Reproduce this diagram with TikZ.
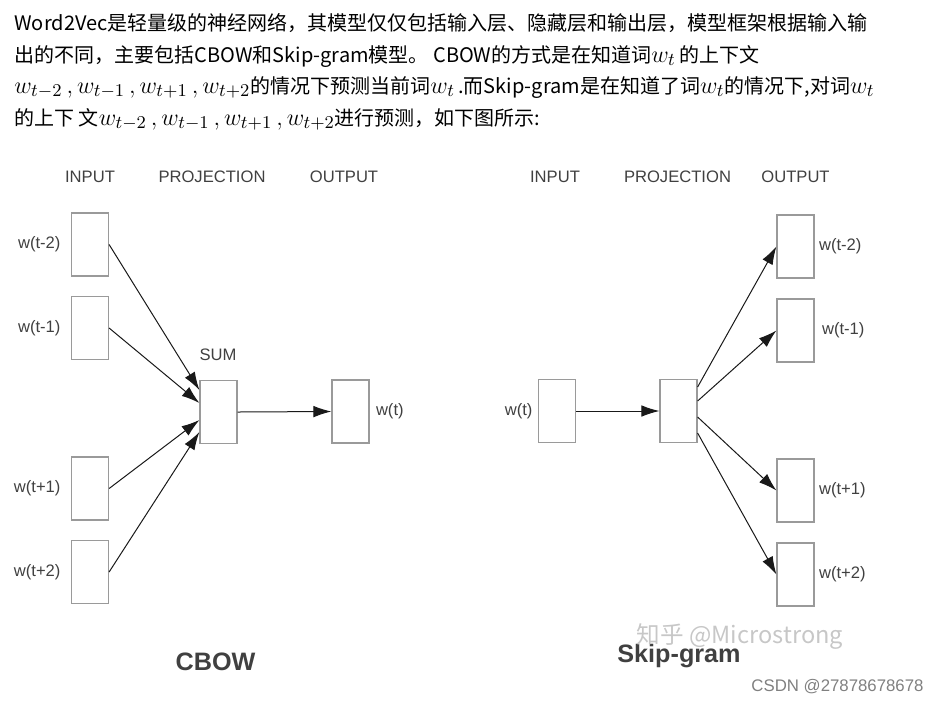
\documentclass[tikz,border=0pt]{standalone}
\usepackage{fontspec}
\usepackage{amsmath}
\usetikzlibrary{arrows.meta}
\newfontfamily\arialfont{Liberation Sans}
\newfontfamily\cjkfont{Noto Sans CJK SC}
\definecolor{boxgray}{HTML}{9A9A9A}
\definecolor{inkgray}{HTML}{404040}
\newcommand{\mw}[1]{{\fontsize{12.2pt}{14pt}\selectfont$#1$}}

\begin{document}
\begin{tikzpicture}[
		x=0.5pt, y=-0.5pt,
		layer/.style={rectangle,draw=boxgray,line width=0.6pt,
		inner sep=0pt,minimum width=18.5pt,minimum height=31.5pt},
		link/.style={draw=black!90, line width=0.5pt, -{Latex[length=9pt,width=5.8pt]}},
		word/.style={text=inkgray, inner sep=0pt, font=\arialfont\fontsize{8.3}{10}\selectfont},
		title/.style={text=black!75, anchor=base, font=\arialfont\bfseries\fontsize{12.6}{15}\selectfont},
		para/.style={anchor=base west, inner sep=0pt, font=\cjkfont\fontsize{10}{12}\selectfont}
		]
		\useasboundingbox (0,0) rectangle (940,703);
		\node[para] (p1) at (14,30) {Word2Vec是轻量级的神经网络，其模型仅仅包括输入层、隐藏层和输出层，模型框架根据输入输};
		\node[para] (p2) at (14,62) {出的不同，主要包括CBOW和Skip-gram模型。 CBOW的方式是在知道词\mw{w_t}\,的上下文};
		\node[para] (p3) at (14,93) {\mw{w_{t-2}\,, w_{t-1}\,, w_{t+1}\,, w_{t+2}}的情况下预测当前词\mw{w_t}\,.而Skip-gram是在知道了词\mw{w_t}的情况下,对词\mw{w_t}};
		\node[para] (p4) at (14,125) {的上下 文\mw{w_{t-2}\,, w_{t-1}\,, w_{t+1}\,, w_{t+2}}进行预测，如下图所示:};

		\node[word] (hin1) at (90,177) {INPUT};
		\node[word] (hpr1) at (212,177) {PROJECTION};
		\node[word] (hout1) at (344,177) {OUTPUT};
		\node[layer] (c1) at (90,244.5) {};
		\node[layer] (c2) at (90,328) {};
		\node[layer] (c3) at (90,488.5) {};
		\node[layer] (c4) at (90,572) {};
		\node[layer] (sum) at (218.5,412) {};
		\node[layer] (cout) at (350.5,411.5) {};
		\node[word, left=5pt] (lc1) at (c1.west) {w(t-2)};
		\node[word, left=5pt] (lc2) at (c2.west) {w(t-1)};
		\node[word, left=5pt] (lc3) at (c3.west) {w(t+1)};
		\node[word, left=5pt] (lc4) at (c4.west) {w(t+2)};
		\node[word] (lsum) at (218,355) {SUM};
		\node[word, right=3pt] (lcout) at (cout.east) {w(t)};
		\draw[link] (c1.east) -- ([yshift=11pt]sum.west);
		\draw[link] (c2.east) -- ([yshift=4.5pt]sum.west);
		\draw[link] (c3.east) -- ([yshift=-4pt]sum.west);
		\draw[link] (c4.east) -- ([yshift=-10pt]sum.west);
		\draw[link] (sum.east) -- (cout.west);
		\node[title] (tcbow) at (215.5,670) {CBOW};

		\node[word] (hin2) at (555,177) {INPUT};
		\node[word] (hpr2) at (677.5,177) {PROJECTION};
		\node[word] (hout2) at (795.5,177) {OUTPUT};
		\node[layer] (win) at (557,411) {};
		\node[layer] (proj) at (678.5,411) {};
		\node[layer] (s1) at (795.5,246.5) {};
		\node[layer] (s2) at (795.5,330.5) {};
		\node[layer] (s3) at (795.5,490.5) {};
		\node[layer] (s4) at (795.5,574.5) {};
		\node[word, left=2.5pt] (lwin) at (win.west) {w(t)};
		\node[word, right=2pt] (ls1) at (s1.east) {w(t-2)};
		\node[word, right=3.5pt] (ls2) at (s2.east) {w(t-1)};
		\node[word, right=2pt] (ls3) at (s3.east) {w(t+1)};
		\node[word, right=2pt] (ls4) at (s4.east) {w(t+2)};
		\draw[link] (win.east) -- (proj.west);
		\draw[link] ([yshift=12pt]proj.east) -- (s1.west);
		\draw[link] ([yshift=5pt]proj.east) -- (s2.west);
		\draw[link] ([yshift=-3pt]proj.east) -- (s3.west);
		\draw[link] ([yshift=-11pt]proj.east) -- (s4.west);
		\node[title] (tskip) at (679,662) {Skip-gram};

		\node[text=black!22, font=\cjkfont\fontsize{11.8}{14}\selectfont] (wm1) at (740,637) {知乎 @Microstrong};
		\node[text=black!50, font=\arialfont\fontsize{8.4}{10}\selectfont] (wm2) at (837.5,687) {CSDN @27878678678};
	\end{tikzpicture}
\end{document}
